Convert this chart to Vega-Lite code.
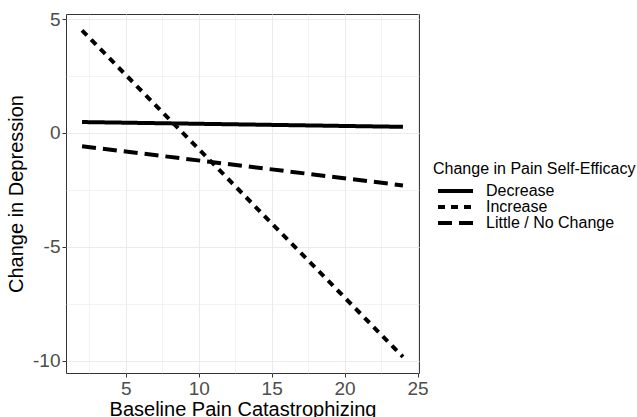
{
  "$schema": "https://vega.github.io/schema/vega-lite/v6.json",
  "autosize": {"type": "none"},
  "padding": {"left": 66, "top": 14, "right": 218, "bottom": 44},
  "width": 353,
  "height": 359,
  "background": "white",
  "config": {
    "font": "Liberation Sans",
    "view": {"stroke": "#333333", "strokeWidth": 1}
  },
  "data": {
    "values": [
      {"pc": 2, "dep": 0.48, "grp": "Decrease"},
      {"pc": 24, "dep": 0.27, "grp": "Decrease"},
      {"pc": 2, "dep": 4.5, "grp": "Increase"},
      {"pc": 24, "dep": -9.82, "grp": "Increase"},
      {"pc": 2, "dep": -0.58, "grp": "Little / No Change"},
      {"pc": 24, "dep": -2.3, "grp": "Little / No Change"}
    ]
  },
  "mark": {"type": "line", "color": "black", "strokeWidth": 4, "strokeCap": "butt"},
  "encoding": {
    "x": {
      "field": "pc", "type": "quantitative",
      "scale": {"domain": [0.9, 25.1], "nice": false, "zero": false},
      "axis": {
        "title": "Baseline Pain Catastrophizing",
        "values": [2.5, 5, 7.5, 10, 12.5, 15, 17.5, 20, 22.5, 25],
        "labelExpr": "datum.value % 5 === 0 ? toString(datum.value) : ''",
        "domain": false,
        "tickColor": "#333333",
        "tickSize": 4,
        "tickOpacity": {"condition": {"test": "datum.value % 5 === 0", "value": 1}, "value": 0},
        "gridColor": "#EBEBEB",
        "gridWidth": {"condition": {"test": "datum.value % 5 === 0", "value": 1.1}, "value": 0.6},
        "labelFontSize": 19,
        "labelColor": "#4D4D4D",
        "labelPadding": 2,
        "labelFlush": false,
        "titleFontSize": 20,
        "titleFontWeight": "normal",
        "titleColor": "black",
        "titlePadding": 1
      }
    },
    "y": {
      "field": "dep", "type": "quantitative",
      "scale": {"domain": [-10.53, 5.22], "nice": false, "zero": false},
      "axis": {
        "title": "Change in Depression",
        "values": [-10, -7.5, -5, -2.5, 0, 2.5, 5],
        "labelExpr": "datum.value % 5 === 0 ? toString(datum.value) : ''",
        "domain": false,
        "tickColor": "#333333",
        "tickSize": 4,
        "tickOpacity": {"condition": {"test": "datum.value % 5 === 0", "value": 1}, "value": 0},
        "gridColor": "#EBEBEB",
        "gridWidth": {"condition": {"test": "datum.value % 5 === 0", "value": 1.1}, "value": 0.6},
        "labelFontSize": 19,
        "labelColor": "#4D4D4D",
        "labelPadding": 2,
        "labelFlush": false,
        "titleFontSize": 20,
        "titleFontWeight": "normal",
        "titleColor": "black",
        "titlePadding": 6
      }
    },
    "strokeDash": {
      "field": "grp", "type": "nominal",
      "scale": {
        "domain": ["Decrease", "Increase", "Little / No Change"],
        "range": [[1, 0], [7, 6], [14, 7]]
      },
      "legend": {
        "title": "Change in Pain Self-Efficacy",
        "orient": "none",
        "legendX": 367,
        "legendY": 147,
        "titleFontSize": 16,
        "titleFontWeight": "normal",
        "titleColor": "black",
        "titleLimit": 400,
        "titlePadding": 6,
        "labelFontSize": 16,
        "labelColor": "black",
        "labelLimit": 300,
        "symbolType": "M-0.6,0H6.4",
        "symbolSize": 100,
        "symbolStrokeWidth": 4,
        "symbolStrokeColor": "black",
        "symbolFillColor": "transparent",
        "rowPadding": -3.5,
        "labelOffset": 37
      }
    }
  }
}
